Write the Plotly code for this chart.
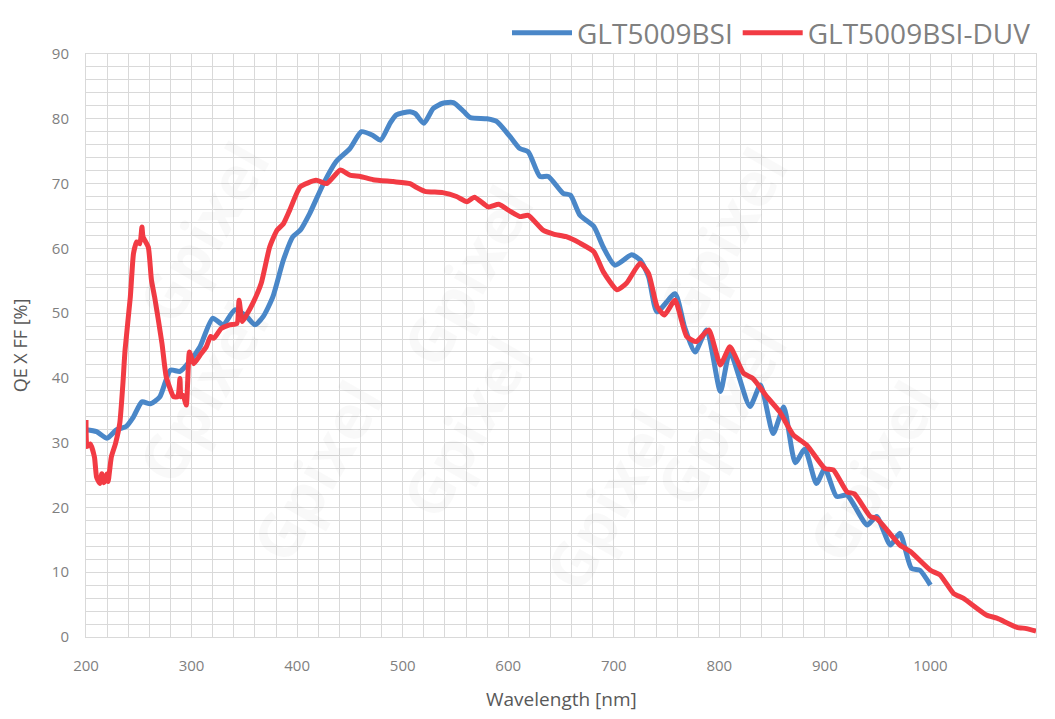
import plotly.graph_objects as go

# ---- data ----
bsi_nm = [200, 210, 220, 229, 238, 245, 253, 261, 270, 280, 289, 298, 308, 320, 330, 341, 352, 360, 368,
          377, 387, 396, 403, 412, 425, 437, 450, 461, 471, 479, 488, 494, 507, 512, 520, 529, 538, 548,
          558, 564, 580, 589, 602, 611, 619, 630, 638, 652, 659, 668, 681, 690, 701, 717, 725, 733, 741,
          758, 767, 777, 788, 801, 810, 829, 839, 851, 861, 872, 881, 892, 900, 911, 921, 940, 949, 962,
          971, 982, 990, 1000]
bsi_qe = [32.0, 31.7, 30.7, 32.0, 32.5, 34.0, 36.3, 36.0, 37.1, 41.2, 41.0, 42.5, 44.8, 49.2, 48.2, 50.5,
          49.5, 48.2, 49.5, 52.5, 58.2, 61.8, 62.8, 65.4, 70.0, 73.4, 75.4, 78.0, 77.5, 76.7, 79.3, 80.6,
          81.1, 80.8, 79.3, 81.6, 82.4, 82.5, 81.1, 80.2, 80.0, 79.6, 77.2, 75.4, 74.9, 71.1, 71.1, 68.5,
          68.2, 65.1, 63.4, 60.2, 57.4, 59.0, 58.2, 55.6, 50.2, 53.0, 47.9, 44.0, 47.4, 37.9, 44.0, 35.6,
          38.9, 31.4, 35.5, 26.9, 29.0, 23.7, 26.0, 21.7, 21.9, 17.3, 18.6, 14.2, 16.0, 10.6, 10.3, 8.0]

duv_nm = [200, 201, 204, 208, 210, 213, 215, 217, 220, 221, 224, 228, 232, 235, 237, 242, 245, 248, 251,
          253, 254, 259, 262, 265, 272, 276, 283, 287, 289, 290, 292, 295, 298, 302, 308, 314, 318, 321,
          328, 336, 343, 345, 348, 352, 358, 366, 374, 381, 387, 393, 403, 418, 428, 441, 450, 460, 472,
          491, 507, 512, 521, 538, 551, 561, 568, 581, 591, 602, 611, 619, 633, 643, 655, 668, 681, 690,
          703, 712, 725, 733, 741, 748, 758, 769, 778, 790, 801, 810, 823, 832, 845, 857, 870, 883, 900,
          908, 921, 928, 943, 949, 971, 981, 1000, 1009, 1022, 1031, 1053, 1063, 1082, 1091, 1100]
duv_qe = [33.5, 29.4, 29.8, 27.8, 24.7, 23.7, 25.2, 23.8, 25.2, 24.0, 27.8, 29.9, 33.0, 39.2, 44.3, 52.5,
          59.2, 61.0, 60.7, 63.3, 61.8, 60.2, 55.1, 52.5, 45.3, 40.2, 37.1, 37.1, 39.9, 37.1, 37.3, 35.8,
          44.0, 42.2, 43.5, 44.8, 46.4, 46.1, 47.6, 48.2, 48.4, 52.0, 48.7, 49.7, 51.5, 54.6, 60.2, 62.8,
          63.8, 65.9, 69.5, 70.5, 70.0, 72.1, 71.3, 71.1, 70.6, 70.3, 70.0, 69.5, 68.8, 68.6, 68.0, 67.2,
          67.9, 66.4, 66.8, 65.7, 64.9, 65.1, 62.8, 62.2, 61.8, 60.8, 59.5, 56.4, 53.6, 54.6, 57.7, 56.1,
          51.0, 49.7, 52.0, 46.4, 45.6, 47.4, 42.0, 44.8, 40.7, 39.9, 37.1, 34.8, 31.2, 29.6, 26.0, 25.8,
          22.4, 22.1, 18.6, 18.3, 14.2, 13.2, 10.3, 9.6, 6.7, 6.0, 3.4, 2.9, 1.5, 1.3, 0.9]

series_names = ["GLT5009BSI", "GLT5009BSI-DUV"]
x_ticks = [200, 300, 400, 500, 600, 700, 800, 900, 1000, 1100]
y_ticks = [0, 10, 20, 30, 40, 50, 60, 70, 80, 90]
x_title = "Wavelength [nm]"
y_title = "QE X FF [%]"
watermark = "Gpixel"

BLUE = "#4A87C8"
RED = "#F23B44"
FONT = "Open Sans"

fig = go.Figure()
fig.add_trace(go.Scatter(x=bsi_nm, y=bsi_qe, mode="lines", name=series_names[0],
                         line=dict(color=BLUE, width=5, shape="spline", smoothing=0.6)))
fig.add_trace(go.Scatter(x=duv_nm, y=duv_qe, mode="lines", name=series_names[1],
                         line=dict(color=RED, width=5, shape="spline", smoothing=0.5)))

# faint watermarks
wm_pos = [(0.03, 0.88), (0.40, 0.62), (0.76, 0.87), (0.03, 0.42), (0.40, 0.36),
          (0.76, 0.38), (0.15, 0.10), (0.55, 0.05), (0.92, 0.10)]
for (px, py) in wm_pos:
    fig.add_annotation(text="<b>" + watermark + "</b>", x=px, y=py, xref="paper", yref="paper",
                       showarrow=False, textangle=-60,
                       font=dict(family=FONT, size=62, color="rgba(0,0,0,0.025)"))

# x-axis title placed as an annotation (standoff is clamped without automargin)
fig.add_annotation(text=x_title, x=0.5, y=-0.106, xref="paper", yref="paper",
                   xanchor="center", yanchor="middle", showarrow=False,
                   font=dict(family=FONT, size=19, color="#595959"))

# page body has an 8px default margin, so the figure is sized to fit the window
fig.update_layout(
    width=1039, height=703,
    margin=dict(l=78, r=11, t=46, b=74, autoexpand=False),
    paper_bgcolor="white", plot_bgcolor="white",
    font=dict(family=FONT, color="#7f7f7f"),
    showlegend=True,
    legend=dict(orientation="h", x=1.0, xanchor="right", yref="container", y=1.0, yanchor="top",
                font=dict(size=28, color="#808080", family=FONT),
                itemwidth=60, bgcolor="rgba(0,0,0,0)"),
)
fig.update_xaxes(range=[200, 1100], tickvals=x_ticks, ticktext=[str(v) for v in x_ticks],
                 showgrid=True, gridcolor="#d9d9d9", gridwidth=1,
                 minor=dict(dtick=20, showgrid=True, gridcolor="#d9d9d9", gridwidth=1),
                 zeroline=False, showline=True, linecolor="#d9d9d9", mirror=True,
                 tickfont=dict(size=15, color="#7f7f7f"), ticks="", ticklabelstandoff=15)
fig.update_yaxes(range=[0, 90], tickvals=y_ticks, ticktext=[str(v) for v in y_ticks],
                 showgrid=True, gridcolor="#d9d9d9", gridwidth=1,
                 minor=dict(dtick=2, showgrid=True, gridcolor="#d9d9d9", gridwidth=1),
                 zeroline=False, showline=True, linecolor="#d9d9d9", mirror=True,
                 tickfont=dict(size=15, color="#7f7f7f"), ticks="", ticklabelstandoff=13,
                 title=dict(text=y_title, font=dict(size=18, color="#595959"), standoff=21))

fig.write_html("out.html")
